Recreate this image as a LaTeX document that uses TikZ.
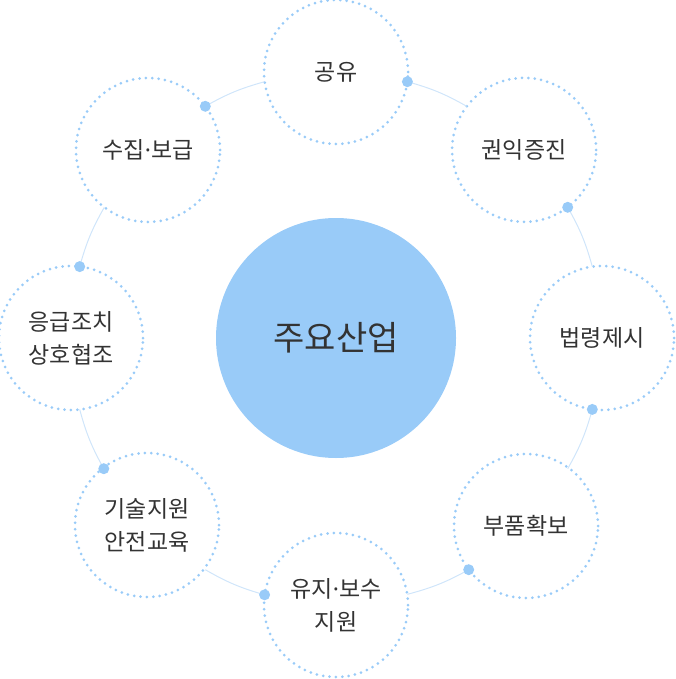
\documentclass[tikz,border=0pt]{standalone}
\usepackage{fontspec}
\setmainfont{Noto Sans CJK KR}
\newfontfamily\dotfont{Noto Sans}
\usepackage{tikz}
\usetikzlibrary{positioning}
\definecolor{skyblue}{HTML}{99CBF8}
\definecolor{palesky}{HTML}{CFE5FA}
\definecolor{inkgray}{HTML}{333333}
\newcommand{\mdot}{{\dotfont\char"00B7}}

\begin{document}
\begin{tikzpicture}[
x=1pt, y=-1pt,
    topic/.style={
        circle,
        draw=skyblue,
        line width=3pt,
        line cap=round,
        dash pattern=on 0pt off 6.4pt,
        minimum size=144pt,
        inner sep=0pt,
        outer sep=0pt,
        align=center,
        text=inkgray,
        font=\fontsize{23pt}{33pt}\selectfont
    },
    hub/.style={
        circle,
        fill=skyblue,
        minimum size=240pt,
        inner sep=0pt,
        text=inkgray,
        font=\fontsize{34pt}{40pt}\selectfont
    },
    ring/.style={palesky, line width=1pt},
    joint/.style={fill=skyblue}
]
\useasboundingbox (0,0) rectangle (675,679);

\node[hub] (core) at (336,338) {주요산업};

\node[topic] (share)  at (336,72)      {공유};
\node[topic] (rights) at (524.1,149.9) {권익증진};
\node[topic] (law)    at (602,338)     {법령제시};
\node[topic] (parts)  at (526,526)     {부품확보};
\node[topic] (upkeep) at (336,605)     {유지\mdot 보수\\지원};
\node[topic] (tech)   at (147,525)     {기술지원\\안전교육};
\node[topic] (aid)    at (71,338)      {응급조치\\상호협조};
\node[topic] (supply) at (148,150)     {수집\mdot 보급};

% Where the ring leaves and enters each circle
\coordinate (shareout)  at (407.4,81.7);
\coordinate (rightsin)  at (466.7,106.3);
\coordinate (rightsout) at (567.7,207.3);
\coordinate (lawin)     at (592.3,266.6);
\coordinate (lawout)    at (592.3,409.4);
\coordinate (partsin)   at (567.7,468.7);
\coordinate (partsout)  at (468.7,569.7);
\coordinate (upkeepin)  at (407.4,594.3);
\coordinate (upkeepout) at (264.6,594.8);
\coordinate (techin)    at (205.3,569.7);
\coordinate (techout)   at (103.8,468.7);
\coordinate (aidin)     at (79.7,409.4);
\coordinate (aidout)    at (79.7,266.6);
\coordinate (supplyin)  at (104.3,207.3);
\coordinate (supplyout) at (205.3,106.3);
\coordinate (sharein)   at (264.6,81.7);

% The thin ring between the circles
\draw[ring] (shareout)  to[bend left=7] (rightsin);
\draw[ring] (rightsout) to[bend left=7] (lawin);
\draw[ring] (lawout)    to[bend left=7] (partsin);
\draw[ring] (partsout)  to[bend left=7] (upkeepin);
\draw[ring] (upkeepout) to[bend left=7] (techin);
\draw[ring] (techout)   to[bend left=7] (aidin);
\draw[ring] (aidout)    to[bend left=7] (supplyin);
\draw[ring] (supplyout) to[bend left=7] (sharein);

% Dots where the ring leaves each circle
\foreach \p in {shareout,rightsout,lawout,partsout,upkeepout,techout,aidout,supplyout}
    \fill[joint] (\p) circle (5.5);
\end{tikzpicture}
\end{document}
